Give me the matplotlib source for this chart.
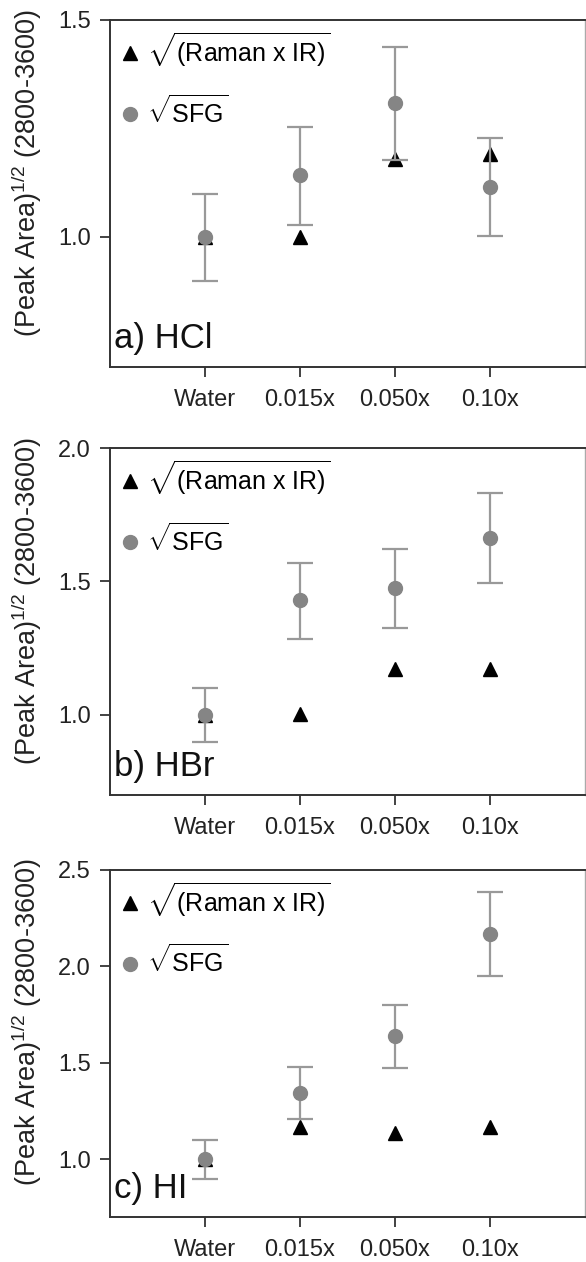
import matplotlib
matplotlib.use("Agg")
import matplotlib.pyplot as plt
from matplotlib.lines import Line2D

plt.rcParams["font.family"] = ["Liberation Sans", "DejaVu Sans"]
plt.rcParams["mathtext.fontset"] = "custom"
plt.rcParams["mathtext.rm"] = "Liberation Sans"
plt.rcParams["mathtext.it"] = "Liberation Sans:italic"

# data
categories = ["Water", "0.015x", "0.050x", "0.10x"]
panel_labels = ["a) HCl", "b) HBr", "c) HI"]
ylims = [(0.7, 1.5), (0.7, 2.0), (0.7, 2.5)]
yticks = [[1.0, 1.5], [1.0, 1.5, 2.0], [1.0, 1.5, 2.0, 2.5]]

# sqrt(Raman x IR)
hcl_raman_ir = [1.0, 1.0, 1.18, 1.19]
hbr_raman_ir = [1.0, 1.005, 1.174, 1.174]
hi_raman_ir = [1.0, 1.167, 1.135, 1.167]

# sqrt(SFG) with lower / upper error bar ends
hcl_sfg = [1.0, 1.142, 1.308, 1.116]
hcl_sfg_lo = [0.899, 1.028, 1.176, 1.002]
hcl_sfg_hi = [1.099, 1.254, 1.438, 1.227]

hbr_sfg = [1.0, 1.429, 1.475, 1.664]
hbr_sfg_lo = [0.898, 1.285, 1.326, 1.496]
hbr_sfg_hi = [1.100, 1.569, 1.621, 1.832]

hi_sfg = [1.0, 1.342, 1.637, 2.17]
hi_sfg_lo = [0.896, 1.21, 1.472, 1.95]
hi_sfg_hi = [1.099, 1.478, 1.80, 2.384]

raman_sets = [hcl_raman_ir, hbr_raman_ir, hi_raman_ir]
sfg_sets = [(hcl_sfg, hcl_sfg_lo, hcl_sfg_hi),
            (hbr_sfg, hbr_sfg_lo, hbr_sfg_hi),
            (hi_sfg, hi_sfg_lo, hi_sfg_hi)]

fig = plt.figure(figsize=(5.86, 12.62), dpi=100)
bottoms = [0.7092, 0.370, 0.0357]
x = list(range(1, len(categories) + 1))

for i in range(3):
    ax = fig.add_axes([0.1877, bottoms[i], 0.8106, 0.275])
    sfg, lo, hi = sfg_sets[i]
    yerr = [[s - l for s, l in zip(sfg, lo)], [h - s for s, h in zip(sfg, hi)]]

    ax.plot(x, raman_sets[i], linestyle="none", marker="^", color="black",
            markersize=9.5, zorder=2)
    ax.errorbar(x, sfg, yerr=yerr, fmt="o", color="#858585", ecolor="#999999",
                elinewidth=1.6, capsize=9.5, capthick=1.6, markersize=10,
                zorder=3)

    ax.set_xlim(0, 5)
    ax.set_ylim(*ylims[i])
    ax.set_xticks(x)
    ax.set_xticklabels(categories)
    ax.set_yticks(yticks[i])
    ax.set_yticklabels(["%.1f" % t for t in yticks[i]])
    ax.tick_params(direction="out", length=7, width=1.2, labelsize=17,
                   colors="#222222", pad=7)
    ax.tick_params(axis="x", pad=9)
    for side in ["left", "bottom", "top"]:
        ax.spines[side].set_color("#333333")
        ax.spines[side].set_linewidth(1.4)
    ax.spines["right"].set_color("#aaaaaa")
    ax.spines["right"].set_linewidth(1.0)

    ax.set_ylabel(r"(Peak Area)$^{1/2}$ (2800-3600)", fontsize=19.5,
                  color="#222222")
    ax.yaxis.set_label_coords(-0.138, 0.56)

    ax.text(0.008, 0.035, panel_labels[i], transform=ax.transAxes,
            fontsize=25, color="#111111", va="bottom", ha="left")

    handles = [
        Line2D([], [], linestyle="none", marker="^", color="black", markersize=9.5),
        Line2D([], [], linestyle="none", marker="o", color="#858585", markersize=10),
    ]
    labels = [r"$\sqrt{\mathrm{(Raman\ x\ IR)}}$", r"$\sqrt{\mathrm{SFG}}$"]
    ax.legend(handles, labels, loc="upper left", frameon=False, fontsize=18,
              handlelength=0.8, handletextpad=0.3, labelspacing=1.05,
              borderaxespad=0.0, bbox_to_anchor=(0.0, 1.0))

fig.savefig("out.png", dpi=100)
